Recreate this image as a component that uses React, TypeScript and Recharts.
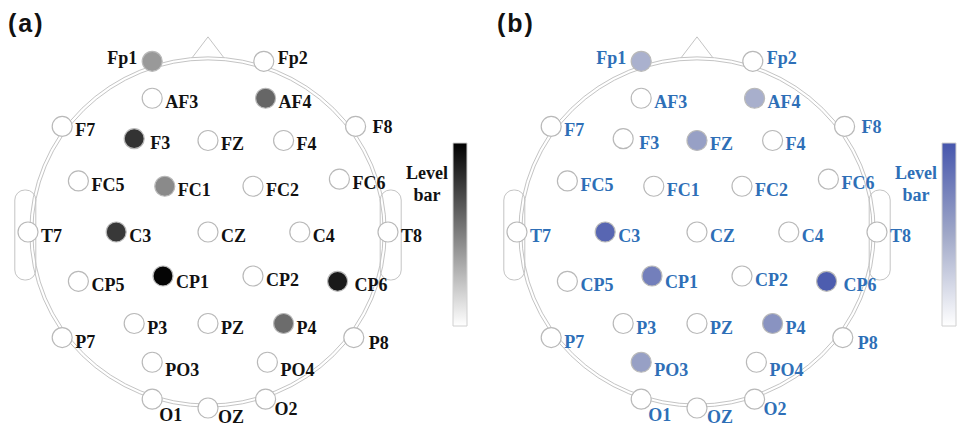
import React from "react";
import { ScatterChart, Scatter, XAxis, YAxis, ReferenceArea } from "recharts";

// 10-20 montage, head coordinates (nose up, head radius ~1)
const electrodes = [
  "Fp1", "Fp2", "AF3", "AF4", "F7", "F3", "FZ", "F4", "F8",
  "FC5", "FC1", "FC2", "FC6", "T7", "C3", "CZ", "C4", "T8",
  "CP5", "CP1", "CP2", "CP6", "P7", "P3", "PZ", "P4", "P8",
  "PO3", "PO4", "O1", "OZ", "O2",
];
const posX = [
  -0.31, 0.31, -0.31, 0.32, -0.81, -0.41, 0, 0.42, 0.82,
  -0.72, -0.24, 0.25, 0.73, -1.0, -0.51, 0, 0.51, 1.0,
  -0.72, -0.25, 0.25, 0.72, -0.81, -0.41, 0, 0.42, 0.81,
  -0.31, 0.33, -0.31, 0, 0.32,
];
const posY = [
  0.97, 0.97, 0.76, 0.76, 0.6, 0.53, 0.52, 0.52, 0.6,
  0.29, 0.26, 0.26, 0.3, 0, 0, 0, 0, 0,
  -0.28, -0.25, -0.25, -0.28, -0.6, -0.52, -0.52, -0.52, -0.6,
  -0.74, -0.74, -0.95, -1.0, -0.95,
];
// level (0..1) per electrode
const levelA = [
  0.4, 0, 0, 0.6, 0, 0.8, 0, 0, 0,
  0, 0.46, 0, 0, 0, 0.78, 0, 0, 0,
  0, 0.98, 0, 0.9, 0, 0, 0, 0.58, 0,
  0, 0, 0, 0, 0,
];
const levelB = [
  0.45, 0, 0, 0.46, 0, 0, 0.55, 0, 0,
  0, 0, 0, 0, 0, 0.9, 0, 0, 0,
  0, 0.75, 0, 0.96, 0, 0, 0, 0.63, 0,
  0.55, 0, 0, 0, 0,
];

const PANEL_W = 489;
const H = 427;
const SX = 180; // px per unit
const SY = 176;
const CX = 208; // head centre inside a panel
const CY = 232;
const X_DOMAIN = [-CX / SX, (PANEL_W - CX) / SX];
const Y_DOMAIN = [-(H - CY) / SY, CY / SY];

const SERIF = "'Liberation Serif', 'Times New Roman', serif";
const LINE = "#c4c4c4";

// label placement tweaks (px)
const labelOffset: Record<string, { dx: number; dy: number; anchor?: string }> = {
  Fp1: { dx: -15, dy: -3, anchor: "end" },
  Fp2: { dx: 14, dy: -3 },
  F3: { dx: 16, dy: 4 },
  F8: { dx: 17, dy: 1 },
  CP1: { dx: 13, dy: 6 },
  CP6: { dx: 17, dy: 4 },
  P8: { dx: 15, dy: 5 },
  PO3: { dx: 13, dy: 8 },
  PO4: { dx: 13, dy: 8 },
  O1: { dx: 7, dy: 16 },
  OZ: { dx: 10, dy: 9 },
  O2: { dx: 9, dy: 10 },
};

// colour scale: white -> mid -> top
function mix(level: number, mid: number[], top: number[]) {
  const white = [255, 255, 255];
  let a = white;
  let b = mid;
  let t = level / 0.5;
  if (level > 0.5) {
    a = mid;
    b = top;
    t = (level - 0.5) / 0.5;
  }
  const c = a.map((v, i) => Math.round(v + (b[i] - v) * t));
  return `rgb(${c[0]},${c[1]},${c[2]})`;
}

function HeadOutline(props: any) {
  const { cx, cy } = props;
  const rx = 0.99 * SX;
  const ry = 0.995 * SY;
  return (
    <g fill="none" stroke={LINE} strokeWidth={1}>
      <path d={`M${cx - 16},${cy - ry + 1} L${cx},${cy - ry - 20} L${cx + 16},${cy - ry + 1}`} />
      <rect x={cx - rx - 15} y={cy - 42} width={21} height={90} rx={10} fill="#fff" />
      <rect x={cx + rx - 6} y={cy - 42} width={21} height={90} rx={10} fill="#fff" />
      <ellipse cx={cx} cy={cy} rx={rx} ry={ry} />
      <ellipse cx={cx} cy={cy} rx={rx - 3} ry={ry - 3} />
    </g>
  );
}

function Panel({ levels, mid, top, textColor, gradId, title, left }: any) {
  const data = electrodes.map((name, i) => ({
    name,
    x: posX[i],
    y: posY[i],
    level: levels[i],
  }));
  const Electrode = (p: any) => {
    const { cx, cy, payload } = p;
    const o = labelOffset[payload.name] ?? { dx: 13, dy: 4 };
    return (
      <g>
        <circle
          cx={cx}
          cy={cy}
          r={10}
          fill={payload.level > 0 ? mix(payload.level, mid, top) : "#fff"}
          stroke="#b9b9b9"
          strokeWidth={1.2}
        />
        <text
          x={cx + o.dx}
          y={cy + o.dy}
          textAnchor={o.anchor ?? "start"}
          dominantBaseline="central"
          fontFamily={SERIF}
          fontWeight={700}
          fontSize={18}
          fill={textColor}
        >
          {payload.name}
        </text>
      </g>
    );
  };
  return (
    <div style={{ position: "absolute", left, top: 0, width: PANEL_W, height: H }}>
      <svg width={0} height={0} style={{ position: "absolute" }}>
        <defs>
          <linearGradient id={gradId} x1="0" y1="0" x2="0" y2="1">
            <stop offset="0%" stopColor={mix(1, mid, top)} />
            <stop offset="50%" stopColor={mix(0.5, mid, top)} />
            <stop offset="100%" stopColor="#fff" />
          </linearGradient>
        </defs>
      </svg>
      <ScatterChart width={PANEL_W} height={H} margin={{ top: 0, right: 0, bottom: 0, left: 0 }}>
        <XAxis type="number" dataKey="x" domain={X_DOMAIN} hide allowDataOverflow />
        <YAxis type="number" dataKey="y" domain={Y_DOMAIN} hide allowDataOverflow />
        <Scatter data={[{ x: 0, y: 0 }]} shape={HeadOutline} isAnimationActive={false} />
        <ReferenceArea
          x1={(453 - CX) / SX}
          x2={(467 - CX) / SX}
          y1={(CY - 143) / SY}
          y2={(CY - 326) / SY}
          fill={`url(#${gradId})`}
          fillOpacity={1}
          stroke="#d0d0d0"
          strokeWidth={1}
        />
        <Scatter data={data} shape={Electrode} isAnimationActive={false} />
      </ScatterChart>
      <div
        style={{
          position: "absolute",
          left: 405,
          top: 162,
          width: 44,
          textAlign: "center",
          fontFamily: SERIF,
          fontWeight: 700,
          fontSize: 18,
          lineHeight: "22px",
          color: textColor,
        }}
      >
        Level
        <br />
        bar
      </div>
      <div
        style={{
          position: "absolute",
          left: 8,
          top: 9,
          fontFamily: "'Liberation Sans', Arial, sans-serif",
          fontWeight: 700,
          fontSize: 25,
          letterSpacing: 2,
          color: "#111",
        }}
      >
        {title}
      </div>
    </div>
  );
}

export default function App() {
  return (
    <div style={{ position: "absolute", left: 0, top: 0, width: 959, height: H, background: "#fff", overflow: "hidden" }}>
      <Panel levels={levelA} mid={[128, 128, 128]} top={[0, 0, 0]} textColor="#111" gradId="lvlA" title="(a)" left={0} />
      <Panel levels={levelB} mid={[160, 168, 200]} top={[70, 86, 173]} textColor="#2e6fb7" gradId="lvlB" title="(b)" left={489} />
    </div>
  );
}
